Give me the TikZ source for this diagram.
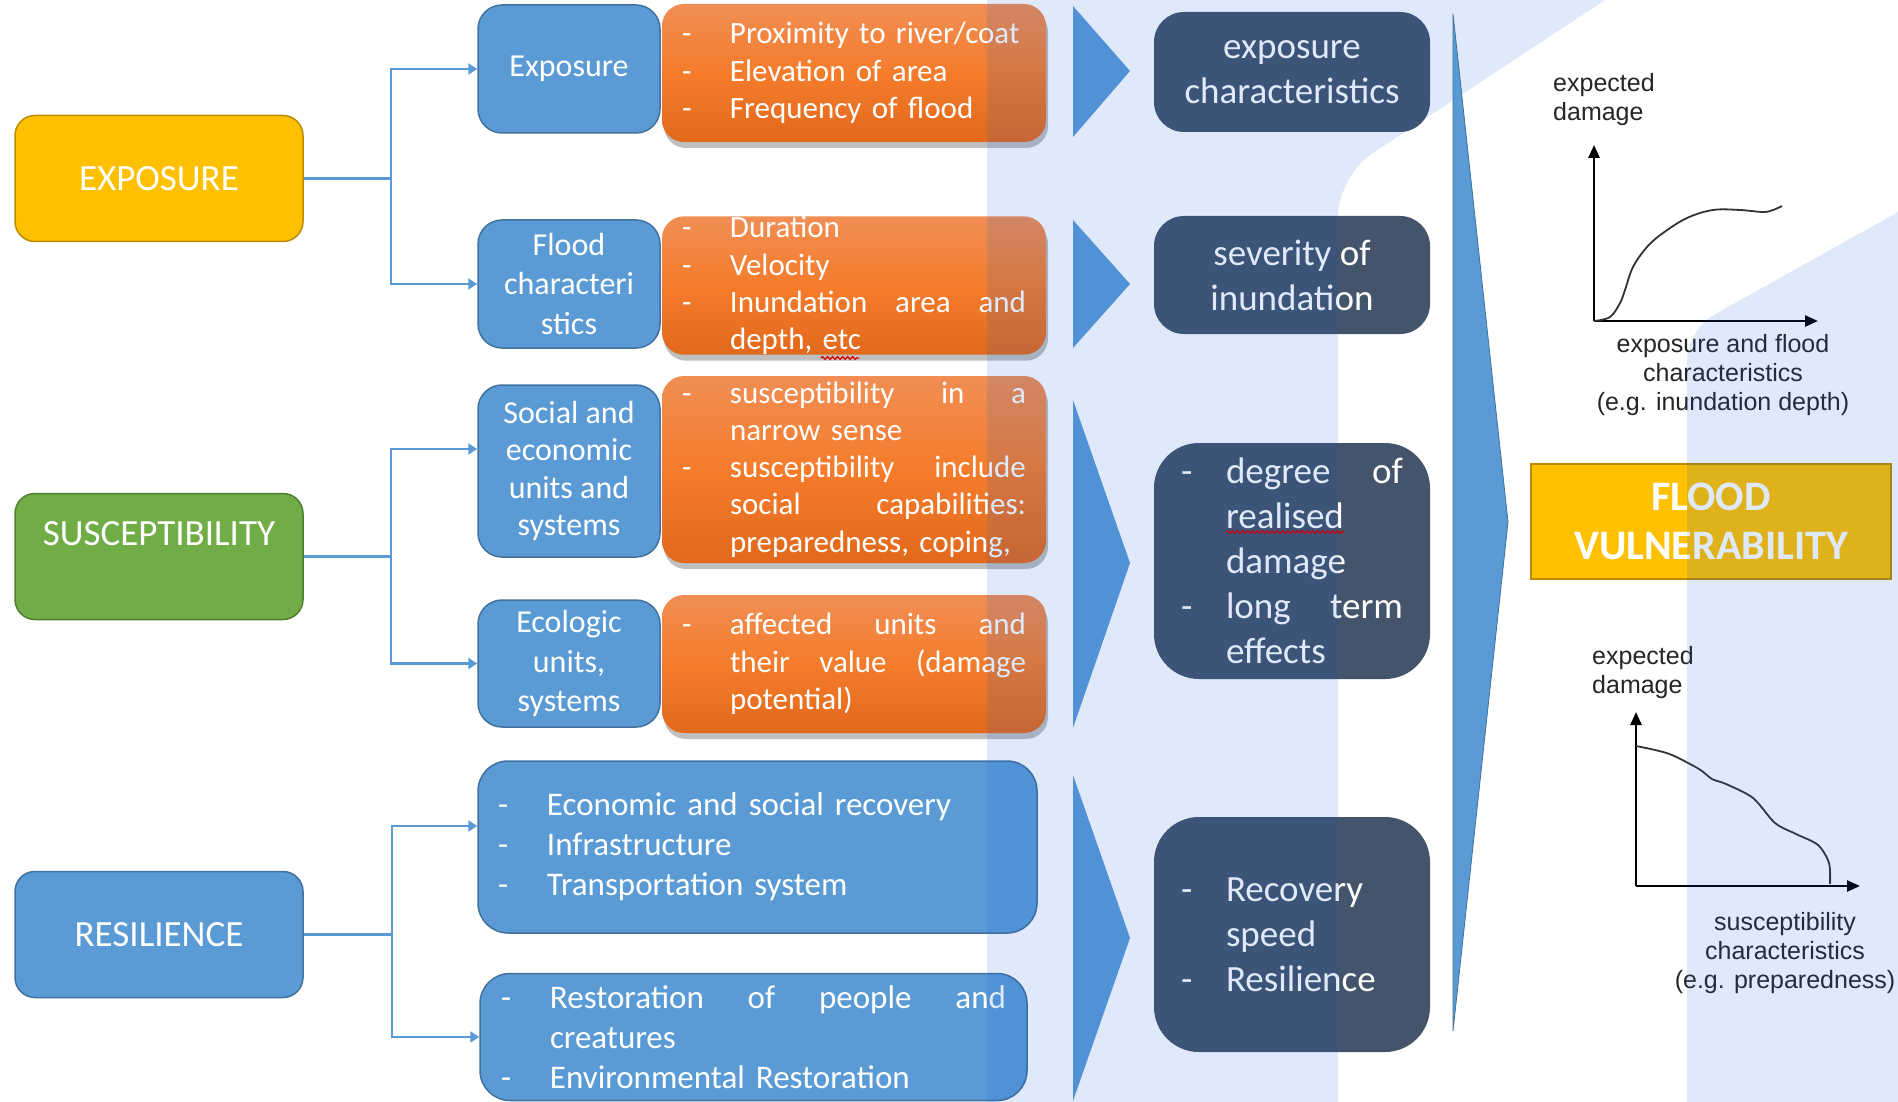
\documentclass[tikz,border=0pt]{standalone}
\usepackage{fontspec}
\setmainfont{Carlito}
\newfontfamily\arialf{Liberation Sans}
\usepackage{tikz}
\usetikzlibrary{arrows.meta,shadows,decorations.pathmorphing}

\definecolor{gold}{HTML}{FFC000}
\definecolor{goldedge}{HTML}{BC8C00}
\definecolor{leaf}{HTML}{70AD47}
\definecolor{leafedge}{HTML}{507E32}
\definecolor{sky}{HTML}{5B9BD5}
\definecolor{skyedge}{HTML}{41719C}
\definecolor{slate}{HTML}{44546A}
\definecolor{orangetop}{HTML}{F18E54}
\definecolor{orangemid}{HTML}{F47C2B}
\definecolor{orangebot}{HTML}{E2691C}
\definecolor{wash}{RGB}{10,90,220}

% dash lists
\newlength\dashw
\newcommand{\ditem}[1]{\makebox[\dashw][l]{-}#1}
\newcommand{\djust}[1]{\makebox[\dashw][l]{-}\makebox[\dimexpr\linewidth-\dashw\relax][s]{\spaceskip=0pt\xspaceskip=0pt\relax #1}}
\newcommand{\dcont}[1]{\hspace*{\dashw}#1}
\newcommand{\dcontj}[1]{\hspace*{\dashw}\makebox[\dimexpr\linewidth-\dashw\relax][s]{\spaceskip=0pt\xspaceskip=0pt\relax #1}}

\tikzset{
    flow/.style={-{Triangle[length=9pt,width=11pt]}, draw=sky, line width=2.5pt},
    axis/.style={-{Triangle[length=13pt,width=11pt]}, line width=2.6pt},
    curve/.style={line width=1.8pt, draw=black!80},
    chev/.style={fill=sky},
    bigarrow/.style={fill=sky, draw=skyedge, line width=0.8pt},
    tint/.style={fill=wash, fill opacity=0.13},
    squig/.style={draw=red!85!black, line width=1.3pt, decorate, decoration={snake, amplitude=1.4pt, segment length=5pt}}
}

\begin{document}
\begin{tikzpicture}[
    x=1pt, y=-1pt,
    catbox/.style={rectangle, rounded corners=20pt, line width=1.5pt, minimum width=288pt, minimum height=126pt, text=white, font=\fontsize{37}{44}\selectfont},
    subbox/.style={rectangle, rounded corners=24pt, draw=skyedge, fill=sky, line width=1.5pt, minimum width=182pt, text=white, align=center, font=\fontsize{32}{39.5}\selectfont},
    detail/.style={rectangle, rounded corners=22pt, minimum width=384pt, text width=344pt, inner ysep=0pt, align=left, text=white,
        top color=orangetop, bottom color=orangebot, middle color=orangemid,
        drop shadow={shadow xshift=2pt, shadow yshift=-6pt, opacity=0.25, fill=black},
        font=\fontsize{31}{37.3}\selectfont, execute at begin node={\setlength{\dashw}{48pt}}},
    recov/.style={rectangle, rounded corners=30pt, draw=skyedge, fill=sky, line width=1.5pt, inner ysep=0pt, align=left, text=white,
        font=\fontsize{33}{40}\selectfont, execute at begin node={\setlength{\dashw}{49pt}}},
    outcome/.style={rectangle, rounded corners=30pt, fill=slate, text=white, minimum width=276pt, align=center, font=\fontsize{37}{45}\selectfont},
    outlist/.style={outcome, rounded corners=45pt, text width=222pt, inner ysep=0pt, align=left, execute at begin node={\setlength{\dashw}{45pt}}},
    result/.style={rectangle, fill=gold, draw=goldedge, line width=1.5pt, minimum width=360pt, minimum height=115pt, text=white, align=center, font=\bfseries\fontsize{42}{49}\selectfont},
    plotlbl/.style={inner sep=0pt, text=black!85, font=\arialf\fontsize{25}{29}\selectfont}
]

% Background
\path[use as bounding box, fill=white] (0,0) rectangle (1898,1102);
\clip (0,0) rectangle (1898,1102);

% Categories
\node[catbox, fill=gold, draw=goldedge] (expo) at (159,178.5) {EXPOSURE};
\node[catbox, fill=leaf, draw=leafedge, text height=24pt, text depth=46pt] (susc) at (159,556.5) {SUSCEPTIBILITY};
\node[catbox, fill=sky, draw=skyedge] (resil) at (159,934.5) {RESILIENCE};

% Sub-factors
\node[subbox, minimum height=128pt] (subExp) at (569,69) {Exposure};
\node[subbox, minimum height=128pt] (subFlood) at (569,284) {Flood\\characteri\\stics};
\node[subbox, minimum height=172pt, font=\fontsize{32}{37.5}\selectfont] (subSoc) at (569,471) {Social and\\economic\\units and\\systems};
\node[subbox, minimum height=127pt] (subEco) at (569,663.5) {Ecologic\\units,\\systems};

% Details
\node[detail, minimum height=138pt] (detExp) at (854,73) {\ditem{Proximity to river/coat}\\\ditem{Elevation of area}\\\ditem{Frequency of flood}};
\node[detail, minimum height=137pt] (detFlood) at (854,285.5) {\ditem{Duration}\\\ditem{Velocity}\\\djust{Inundation area and}\\\dcont{depth, etc}};
\node[detail, minimum height=187pt] (detSoc) at (854,469.5) {\djust{susceptibility in a}\\\dcont{narrow sense}\\\djust{susceptibility include}\\\dcontj{social capabilities:}\\\dcont{preparedness, coping,}};
\node[detail, minimum height=138pt] (detEco) at (854,664) {\djust{affected units and}\\\dcontj{their value (damage}\\\dcont{potential)}};
\draw[squig] (821,358) -- (859,358);

% Resilience measures
\node[recov, minimum width=559pt, minimum height=172pt, text width=519pt] (recEcon) at (757.5,847) {\ditem{Economic and social recovery}\\\ditem{Infrastructure}\\\ditem{Transportation system}};
\node[recov, minimum width=547pt, minimum height=127pt, text width=505pt] (recEnv) at (753.5,1037) {\djust{Restoration of people and}\\\dcont{creatures}\\\ditem{Environmental Restoration}};

% Connectors
\draw[flow] (expo.east) -- ++(87,0) |- (subExp.west);
\draw[flow] (expo.east) -- ++(87,0) |- (subFlood.west);
\draw[flow] (susc.east) -- ++(87,0) |- ([yshift=22pt]subSoc.west);
\draw[flow] (susc.east) -- ++(87,0) |- (subEco.west);
\draw[flow] (resil.east) -- ++(88,0) |- ([yshift=21pt]recEcon.west);
\draw[flow] (resil.east) -- ++(88,0) |- (recEnv.west);

% Chevrons
\fill[chev] (1073,6) -- (1130,71) -- (1073,137) -- cycle;
\fill[chev] (1073,220) -- (1130,284) -- (1073,348) -- cycle;
\fill[chev] (1073,400) -- (1130,563) -- (1073,728) -- cycle;
\fill[chev] (1073,775) -- (1130,938) -- (1073,1101) -- cycle;

% Outcomes
\node[outcome, minimum height=120pt] (outExp) at (1292,72) {exposure\\characteristics};
\node[outcome, minimum height=118pt] (outSev) at (1292,275) {severity of\\inundation};
\node[outlist, minimum height=236pt] (outDmg) at (1292,561) {\djust{degree of}\\\dcont{realised}\\\dcont{damage}\\\djust{long term}\\\dcont{effects}};
\node[outlist, minimum height=235pt] (outRec) at (1292,934.5) {\ditem{Recovery}\\\dcont{speed}\\\ditem{Resilience}};
\draw[squig] (1226,532) -- (1344,532);

% Result
\node[result] (vuln) at (1711,521.5) {FLOOD\\VULNERABILITY};

% Damage curves
\coordinate (o1) at (1594,321);
\coordinate (y1) at (1594,145);
\coordinate (x1) at (1818,321);
\draw[axis] (o1) -- (y1);
\draw[axis] (o1) -- (x1);
\draw[curve] plot[smooth, tension=0.6] coordinates {(1594,321) (1610,317) (1620,303) (1625,290) (1633,267) (1647,247) (1663,233) (1687,218) (1713,210) (1740,210) (1763,212) (1773,210) (1782,206)};
\node[plotlbl, anchor=west, align=left] (ylab1) at (1553,100) {expected\\damage};
\node[plotlbl, align=center] (xlab1) at (1723,375) {exposure and flood\\characteristics\\(e.g. inundation depth)};

\coordinate (o2) at (1636,886);
\coordinate (y2) at (1636,712);
\coordinate (x2) at (1860,886);
\draw[axis] (o2) -- (y2);
\draw[axis] (o2) -- (x2);
\draw[curve] plot[smooth, tension=0.5] coordinates {(1636,746) (1655,750) (1672,755) (1699,769) (1712,779) (1726,784) (1753,798) (1775,823) (1796,834) (1818,845) (1829,863) (1830,884)};
\node[plotlbl, anchor=west, align=left] (ylab2) at (1592,672.5) {expected\\damage};
\node[plotlbl, align=center] (xlab2) at (1785,953.5) {susceptibility\\characteristics\\(e.g. preparedness)};

% Background wash
\fill[tint, rounded corners=40pt] (987,-100) -- (1757,-100) -- (1338,176) -- (1338,1200) -- (987,1200) -- cycle;
\fill[tint, rounded corners=30pt] (1687,1200) -- (1687,330) -- (2100,99) -- (2100,1200) -- cycle;

% Summary arrow
\filldraw[bigarrow] (1453,14) -- (1508,522) -- (1453,1031) -- cycle;

\end{tikzpicture}
\end{document}
